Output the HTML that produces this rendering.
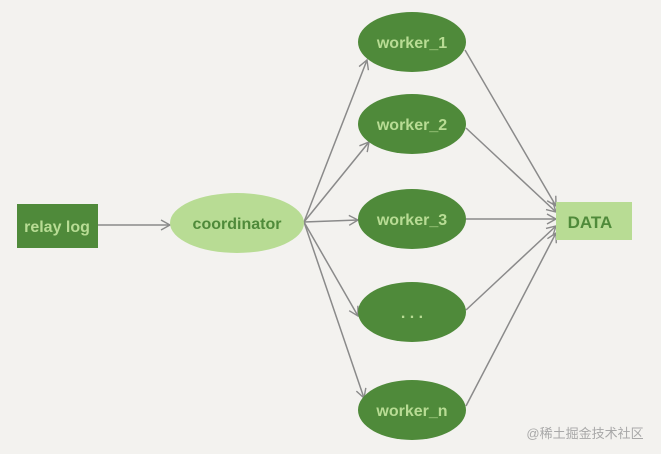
<!DOCTYPE html>
<html><head><meta charset="utf-8"><style>
body{margin:0;background:#f3f2ef;}
svg{display:block}
text{font-family:"Liberation Sans",sans-serif;font-weight:bold;}
</style></head><body>
<svg width="661" height="454" viewBox="0 0 661 454">
<defs><marker id="a" markerWidth="12" markerHeight="12" refX="10" refY="6" orient="auto" markerUnits="userSpaceOnUse"><path d="M1,1 L10,6 L1,11" fill="none" stroke="#8a8a8a" stroke-width="1.4"/></marker></defs>
<rect x="0" y="0" width="661" height="454" fill="#f3f2ef"/>
<g stroke="#8a8a8a" stroke-width="1.5" fill="none" marker-end="url(#a)">
<line x1="98" y1="225" x2="170" y2="225"/>
<line x1="304" y1="222" x2="367" y2="60"/>
<line x1="304" y1="222" x2="369" y2="142"/>
<line x1="304" y1="222" x2="358" y2="220"/>
<line x1="304" y1="222" x2="358" y2="316"/>
<line x1="304" y1="222" x2="364" y2="398"/>
<line x1="465" y1="50" x2="556" y2="206"/>
<line x1="466" y1="128" x2="556" y2="212"/>
<line x1="466" y1="219" x2="556" y2="219"/>
<line x1="466" y1="310" x2="556" y2="226"/>
<line x1="466" y1="406" x2="556" y2="233"/>
</g>
<rect x="17" y="204" width="81" height="44" fill="#4f8a3a"/>
<text x="57" y="232" text-anchor="middle" font-size="16" fill="#b8dc94">relay log</text>
<ellipse cx="237" cy="223" rx="67" ry="30" fill="#b8dc94"/>
<text x="237" y="229" text-anchor="middle" font-size="16" fill="#4f8a3a">coordinator</text>
<g fill="#4f8a3a">
<ellipse cx="412" cy="42" rx="54" ry="30"/>
<ellipse cx="412" cy="124" rx="54" ry="30"/>
<ellipse cx="412" cy="219" rx="54" ry="30"/>
<ellipse cx="412" cy="312" rx="54" ry="30"/>
<ellipse cx="412" cy="410" rx="54" ry="30"/>
</g>
<g fill="#b8dc94" font-size="16" text-anchor="middle">
<text x="412" y="48">worker_1</text>
<text x="412" y="130">worker_2</text>
<text x="412" y="225">worker_3</text>
<text x="412" y="318">. . .</text>
<text x="412" y="416">worker_n</text>
</g>
<rect x="556" y="202" width="76" height="38" fill="#b8dc94"/>
<text x="590" y="228" text-anchor="middle" font-size="17" fill="#4f8a3a">DATA</text>
<text x="585" y="438" text-anchor="middle" font-size="13" fill="#a8a8a8" style="font-weight:normal;font-family:'Liberation Sans','Noto Sans CJK SC',sans-serif">@稀土掘金技术社区</text>
</svg>
</body></html>
